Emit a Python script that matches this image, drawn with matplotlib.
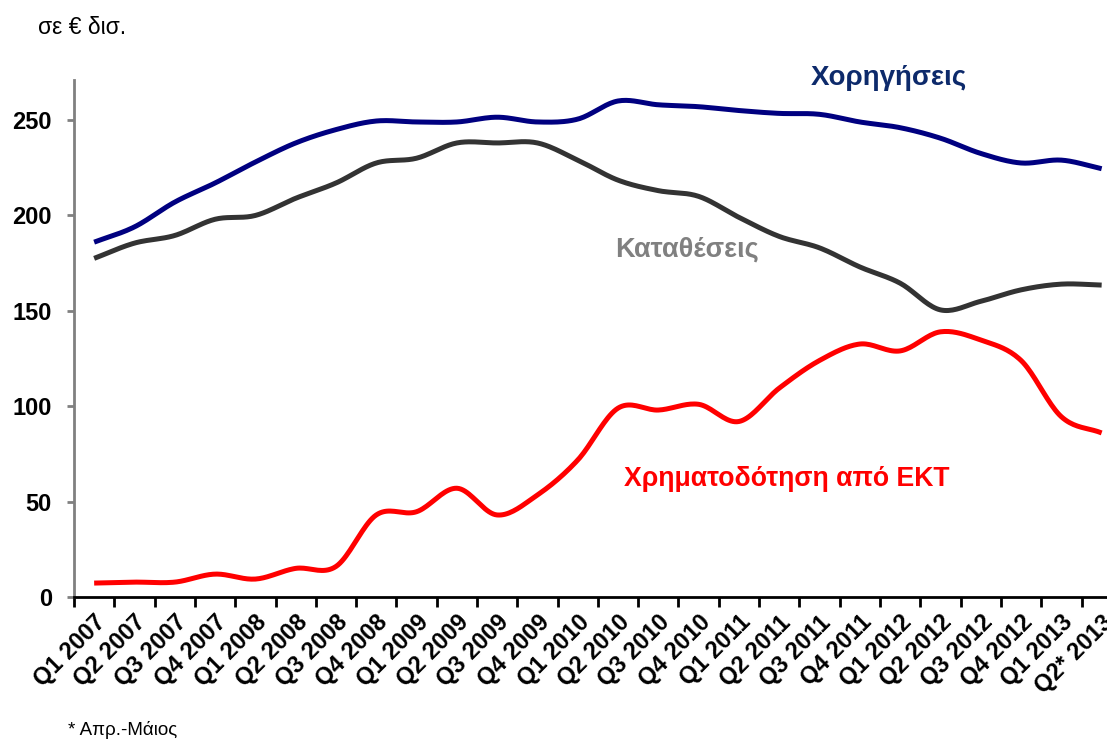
import numpy as np
import matplotlib
matplotlib.use('Agg')
import matplotlib.pyplot as plt

plt.rcParams['font.family'] = ['Liberation Sans', 'DejaVu Sans']

# quarters
quarters = ['Q1 2007', 'Q2 2007', 'Q3 2007', 'Q4 2007',
            'Q1 2008', 'Q2 2008', 'Q3 2008', 'Q4 2008',
            'Q1 2009', 'Q2 2009', 'Q3 2009', 'Q4 2009',
            'Q1 2010', 'Q2 2010', 'Q3 2010', 'Q4 2010',
            'Q1 2011', 'Q2 2011', 'Q3 2011', 'Q4 2011',
            'Q1 2012', 'Q2 2012', 'Q3 2012', 'Q4 2012',
            'Q1 2013', 'Q2* 2013']

# loans (Χορηγήσεις), deposits (Καταθέσεις), ECB funding (Χρηματοδότηση από ΕΚΤ)
loans = [186, 194, 207, 217, 228, 238, 245, 249.5,
         249, 249, 251.5, 249, 250.5, 260, 258, 257,
         255, 253.5, 253, 249, 246, 240.5, 232.5, 227.5,
         229, 224.5]
deposits = [177.5, 185.5, 189.5, 198, 200, 209, 217, 227.5,
            230, 238, 238, 238, 229, 218.5, 213, 210,
            199, 189, 183, 173, 164.5, 150.5, 155, 161,
            164, 163.5]
ecb = [7.3, 7.8, 7.8, 12, 9.4, 15, 16, 43,
       44.7, 57, 43, 53.5, 71.8, 99, 98, 101,
       92, 109.5, 124, 132.6, 129, 139, 134.7, 124,
       94.5, 86]


def smooth(y, n=20):
    # Catmull-Rom through the points (like Excel's smoothed line)
    y = np.asarray(y, dtype=float)
    p = np.concatenate([[2 * y[0] - y[1]], y, [2 * y[-1] - y[-2]]])
    xs, ys = [], []
    for i in range(len(y) - 1):
        p0, p1, p2, p3 = p[i], p[i + 1], p[i + 2], p[i + 3]
        t = np.linspace(0, 1, n, endpoint=False)
        seg = 0.5 * ((2 * p1) + (-p0 + p2) * t +
                     (2 * p0 - 5 * p1 + 4 * p2 - p3) * t ** 2 +
                     (-p0 + 3 * p1 - 3 * p2 + p3) * t ** 3)
        xs.append(i + t)
        ys.append(seg)
    xs.append([len(y) - 1])
    ys.append([y[-1]])
    return np.concatenate(xs), np.concatenate(ys)


fig = plt.figure(figsize=(11.07, 7.41), dpi=100)
ax = fig.add_axes([74 / 1107, 1 - 597 / 741, 1033 / 1107, 517 / 741])

x, y = smooth(loans)
ax.plot(x, y, color='#000080', lw=3.6, solid_capstyle='butt')
x, y = smooth(deposits)
ax.plot(x, y, color='#333333', lw=3.6, solid_capstyle='butt')
x, y = smooth(ecb)
ax.plot(x, y, color='#ff0000', lw=3.6, solid_capstyle='butt')

ax.set_xlim(-0.5, -0.5 + 1033 / 40.3)
ax.set_ylim(0, 271)

ax.set_yticks([0, 50, 100, 150, 200, 250])
ax.tick_params(axis='y', length=5, width=2, color='#808080', labelsize=17, pad=11)
for lab in ax.get_yticklabels():
    lab.set_fontweight('bold')

ax.set_xticks(np.arange(len(quarters)) - 0.5)
ax.set_xticklabels([])
ax.tick_params(axis='x', length=7, width=2, color='black')
ax.set_xticks(np.arange(len(quarters)), minor=True)
ax.set_xticklabels(quarters, minor=True, rotation=45, ha='right', va='top',
                   rotation_mode='anchor', fontsize=17, fontweight='bold')
ax.tick_params(axis='x', which='minor', length=0, pad=10)

for s in ['top', 'right']:
    ax.spines[s].set_visible(False)
ax.spines['left'].set_color('#808080')
ax.spines['left'].set_linewidth(2)
ax.spines['bottom'].set_color('black')
ax.spines['bottom'].set_linewidth(2)

ax.text(19.72, 272, 'Χορηγήσεις', color='#0d2a6b', fontsize=20, fontweight='bold',
        ha='center', va='center', clip_on=False)
ax.text(14.71, 182, 'Καταθέσεις', color='#808080', fontsize=19.5, fontweight='bold',
        ha='center', va='center')
ax.text(17.19, 62, 'Χρηματοδότηση από ΕΚΤ', color='#ff0000', fontsize=19.2, fontweight='bold',
        ha='center', va='center')

fig.text(38 / 1107, 1 - 27 / 741, 'σε € δισ.', fontsize=16.5, ha='left', va='center')
fig.text(68 / 1107, 1 - 730 / 741, '* Απρ.-Μάιος', fontsize=13.5, ha='left', va='center')

fig.savefig('out.png', dpi=100)
